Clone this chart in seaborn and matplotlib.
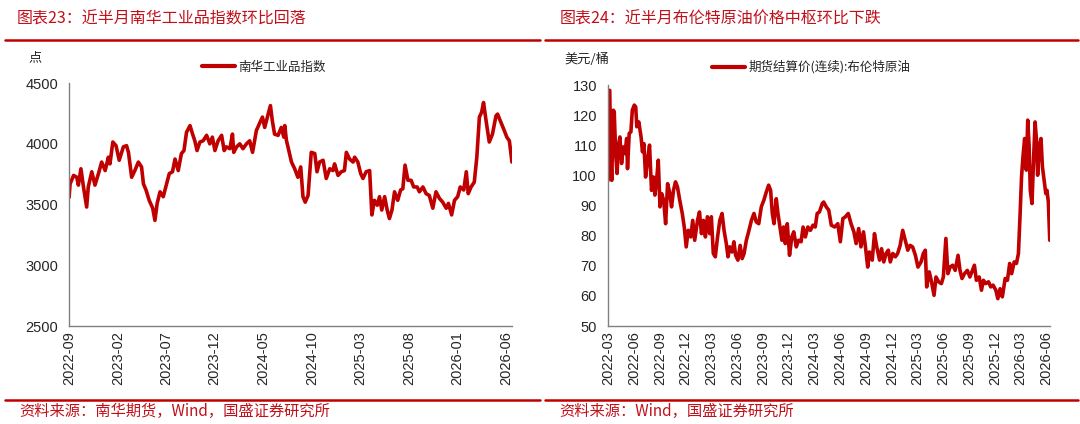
import pandas as pd
import matplotlib.pyplot as plt
import seaborn as sns
from matplotlib.lines import Line2D

# 南华工业品指数 (days after 2022-09-01, value)
nh_days = [0, 3, 14, 24, 29, 37, 45, 55, 60, 71, 76, 81, 92, 102, 113, 123, 128, 137, 147, 157,
           170, 180, 186, 196, 206, 217, 227, 233, 241, 251, 262, 269, 276, 285, 295, 303, 314, 324, 332, 342,
           352, 360, 368, 379, 387, 394, 401, 410, 420, 431, 441, 449, 457, 467, 478, 486, 493, 504, 512, 516,
           525, 535, 545, 556, 566, 575, 587, 598, 606, 613, 624, 631, 637, 644, 655, 665, 673, 676, 681, 686,
           697, 707, 717, 726, 733, 740, 749, 759, 770, 777, 785, 796, 806, 817, 827, 832, 843, 853, 863, 869,
           879, 890, 895, 905, 914, 921, 931, 942, 949, 957, 966, 973, 980, 989, 997, 1004, 1012, 1020, 1030, 1039,
           1046, 1053, 1062, 1072, 1080, 1091, 1098, 1109, 1119, 1129, 1140, 1150, 1161, 1171, 1182, 1189, 1199, 1208, 1218, 1226,
           1237, 1245, 1251, 1260, 1270, 1278, 1286, 1293, 1299, 1307, 1317, 1327, 1338, 1343, 1354, 1364, 1372, 1380, 1388]
nh_vals = [3560, 3670, 3740, 3725, 3660, 3795, 3645, 3480, 3645, 3770, 3715, 3660, 3755, 3850, 3780, 3890, 3835, 4015, 3985, 3865,
           3975, 3985, 3930, 3725, 3780, 3850, 3810, 3670, 3620, 3535, 3470, 3370, 3510, 3605, 3565, 3645, 3755, 3770, 3875, 3780,
           3920, 3945, 4095, 4150, 4080, 4025, 3945, 4015, 4025, 4070, 4000, 4055, 3945, 4025, 4070, 3945, 3975, 3960, 4080, 3930,
           3975, 4000, 3960, 4000, 4025, 3930, 4110, 4175, 4220, 4135, 4245, 4315, 4190, 4080, 4070, 4135, 4055, 4150, 4030, 3975,
           3850, 3795, 3725, 3810, 3565, 3520, 3575, 3930, 3920, 3770, 3850, 3865, 3715, 3795, 3780, 3835, 3740, 3770, 3780, 3930,
           3875, 3850, 3890, 3850, 3755, 3715, 3770, 3780, 3415, 3535, 3495, 3565, 3455, 3565, 3455, 3385, 3455, 3605, 3535, 3620,
           3630, 3825, 3700, 3700, 3645, 3645, 3605, 3645, 3590, 3575, 3470, 3605, 3550, 3520, 3470, 3510, 3415, 3535, 3565, 3645,
           3620, 3770, 3590, 3645, 3685, 3890, 4220, 4260, 4340, 4190, 4015, 4080, 4230, 4245, 4175, 4110, 4055, 4025, 3850]

# 布伦特原油期货结算价 (days after 2022-03-01, value)
brent_days = [0, 1, 6, 9, 13, 19, 22, 27, 32, 36, 42, 48, 54, 60, 66, 69, 75, 81, 86, 93,
              98, 102, 109, 117, 122, 127, 133, 140, 147, 154, 161, 166, 172, 178, 184, 190, 197, 204, 211, 219,
              225, 232, 239, 246, 254, 263, 270, 277, 284, 293, 300, 307, 317, 324, 331, 338, 345, 352, 360, 366,
              373, 380, 388, 396, 404, 411, 419, 425, 431, 439, 446, 452, 460, 468, 475, 482, 490, 498, 508, 517,
              525, 534, 543, 552, 561, 569, 576, 582, 588, 596, 602, 609, 616, 622, 628, 635, 643, 651, 658, 667,
              675, 684, 691, 699, 708, 717, 726, 734, 741, 749, 759, 764, 773, 782, 791, 803, 814, 823, 832, 841,
              851, 861, 871, 879, 888, 896, 905, 912, 920, 926, 936, 944, 952, 962, 969, 977, 985, 993, 1000, 1009,
              1018, 1026, 1035, 1044, 1053, 1062, 1070, 1079, 1089, 1098, 1109, 1117, 1124, 1129, 1138, 1145, 1155, 1162, 1171, 1181,
              1188, 1197, 1204, 1212, 1221, 1230, 1240, 1247, 1254, 1263, 1273, 1282, 1291, 1298, 1305, 1315, 1323, 1330, 1338, 1348,
              1356, 1364, 1374, 1381, 1389, 1397, 1407, 1415, 1423, 1430, 1439, 1447, 1454, 1460, 1465, 1470, 1476, 1482, 1487, 1492,
              1496, 1502, 1508, 1513, 1518, 1522, 1528, 1534, 1539, 1545, 1551, 1555, 1560, 1565]
brent_vals = [98.4, 127.8, 128.3, 109.5, 98.4, 121.7, 121.1, 107.3, 100.7, 109.5, 112.8, 104.0, 109.5, 107.3, 112.3, 102.3, 114.0, 114.5, 121.7, 123.4,
              122.8, 116.2, 117.8, 112.8, 107.9, 110.6, 99.5, 105.1, 110.1, 95.1, 99.5, 93.5, 98.4, 105.1, 89.6, 94.0, 91.8, 84.0, 97.3, 94.0,
              89.6, 95.1, 97.9, 96.2, 91.8, 87.4, 82.9, 76.3, 81.8, 79.6, 85.1, 78.5, 85.1, 87.9, 80.7, 85.1, 79.6, 86.3, 80.7, 86.3,
              74.1, 73.0, 79.6, 85.1, 87.4, 81.8, 77.4, 73.0, 76.3, 74.6, 78.0, 73.5, 71.9, 76.8, 72.4, 74.1, 78.5, 81.3, 85.1, 87.4,
              84.6, 84.0, 89.6, 91.8, 94.6, 96.8, 95.1, 87.4, 84.0, 92.3, 87.4, 82.9, 78.5, 82.9, 77.4, 84.0, 73.5, 79.6, 81.3, 76.3,
              78.5, 78.0, 82.9, 79.6, 82.9, 81.8, 83.5, 82.9, 87.4, 87.9, 90.7, 91.2, 89.6, 88.5, 83.5, 82.9, 84.0, 78.0, 85.7, 86.3,
              87.4, 84.0, 81.3, 77.4, 82.4, 76.3, 81.3, 76.3, 69.6, 74.6, 71.9, 80.7, 76.3, 71.9, 75.7, 71.3, 74.1, 75.2, 71.3, 74.1,
              73.0, 74.1, 76.8, 81.8, 78.5, 75.2, 76.8, 76.3, 73.5, 69.6, 71.3, 74.1, 75.2, 63.0, 68.0, 65.2, 60.2, 66.3, 64.7, 64.1,
              66.3, 79.1, 67.4, 69.6, 70.2, 68.5, 73.5, 68.5, 65.8, 67.4, 68.5, 66.3, 68.5, 70.2, 65.2, 66.3, 61.9, 65.2, 64.1, 64.7,
              63.0, 63.6, 61.9, 59.1, 62.4, 59.7, 65.8, 65.2, 70.8, 67.4, 71.3, 70.8, 74.1, 87.4, 99.5, 106.2, 112.3, 101.8, 118.4, 109.5,
              95.1, 90.7, 106.2, 117.8, 111.7, 100.1, 109.5, 112.3, 102.9, 98.4, 94.0, 95.1, 91.2, 78.5]

nh_ticks = ['2022-09', '2023-02', '2023-07', '2023-12', '2024-05', '2024-10', '2025-03', '2025-08', '2026-01', '2026-06']
brent_ticks = ['2022-03', '2022-06', '2022-09', '2022-12', '2023-03', '2023-06', '2023-09', '2023-12', '2024-03',
               '2024-06', '2024-09', '2024-12', '2025-03', '2025-06', '2025-09', '2025-12', '2026-03', '2026-06']

nh = pd.DataFrame({'date': pd.Timestamp('2022-09-01') + pd.to_timedelta(nh_days, unit='D'), 'value': nh_vals})
brent = pd.DataFrame({'date': pd.Timestamp('2022-03-01') + pd.to_timedelta(brent_days, unit='D'), 'value': brent_vals})

sns.set_style('white')
plt.rcParams['font.family'] = ['Liberation Sans', 'Noto Sans CJK SC', 'DejaVu Sans']
cjk = ['Noto Sans CJK SC', 'Liberation Sans', 'DejaVu Sans']
red = '#C00000'
txt_red = '#C0101A'

fig = plt.figure(figsize=(10.8, 4.24), dpi=100)
ax1 = fig.add_axes([0.064, 0.231, 0.410, 0.573])
ax2 = fig.add_axes([0.563, 0.231, 0.409, 0.568])

sns.lineplot(data=nh, x='date', y='value', ax=ax1, color=red, lw=2.6, label='南华工业品指数')
sns.lineplot(data=brent, x='date', y='value', ax=ax2, color=red, lw=2.6, label='期货结算价(连续):布伦特原油')

ax1.set_ylim(2500, 4500)
ax1.set_yticks([2500, 3000, 3500, 4000, 4500])
ax1.set_xlim(pd.Timestamp('2022-09-01'), nh['date'].iloc[-1])
ax1.set_xticks(pd.to_datetime(nh_ticks))
ax1.set_xticklabels(nh_ticks, rotation=90)

ax2.set_ylim(50, 130)
ax2.set_yticks(range(50, 131, 10))
ax2.set_xlim(pd.Timestamp('2022-03-01'), brent['date'].iloc[-1])
ax2.set_xticks(pd.to_datetime(brent_ticks))
ax2.set_xticklabels(brent_ticks, rotation=90)

legend_pos = {ax1: (0.44, 1.066), ax2: (0.46, 1.075)}
for ax in (ax1, ax2):
    ax.set_xlabel('')
    ax.set_ylabel('')
    for s in ('top', 'right'):
        ax.spines[s].set_visible(False)
    for s in ('left', 'bottom'):
        ax.spines[s].set_color('#808080')
        ax.spines[s].set_linewidth(1.0)
    ax.tick_params(axis='y', direction='in', length=4, color='#808080', labelsize=10.5, pad=8)
    ax.tick_params(axis='x', length=0, labelsize=10.5, pad=4)
    leg = ax.legend(loc='center', bbox_to_anchor=legend_pos[ax], frameon=False,
                    prop={'family': cjk, 'size': 9}, handlelength=2.6, handletextpad=0.3)
    for h in leg.get_lines():
        h.set_linewidth(3)

# titles, units and source
fig.text(0.015, 0.955, '图表23：近半月南华工业品指数环比回落', color=txt_red, fontsize=11.5, family=cjk, va='center')
fig.text(0.518, 0.955, '图表24：近半月布伦特原油价格中枢环比下跌', color=txt_red, fontsize=11.5, family=cjk, va='center')
fig.text(0.026, 0.865, '点', fontsize=9.5, family=cjk, va='center')
fig.text(0.523, 0.86, '美元/桶', fontsize=9.5, family=cjk, va='center')
fig.text(0.018, 0.03, '资料来源：南华期货，Wind，国盛证券研究所', color=txt_red, fontsize=11, family=cjk, va='center')
fig.text(0.518, 0.03, '资料来源：Wind，国盛证券研究所', color=txt_red, fontsize=11, family=cjk, va='center')

for x0, x1 in [(0.005, 0.5), (0.505, 0.998)]:
    fig.add_artist(Line2D([x0, x1], [0.906, 0.906], color=red, lw=1.8))
    fig.add_artist(Line2D([x0, x1], [0.057, 0.057], color=red, lw=1.8))

fig.savefig('out.png', dpi=100)
